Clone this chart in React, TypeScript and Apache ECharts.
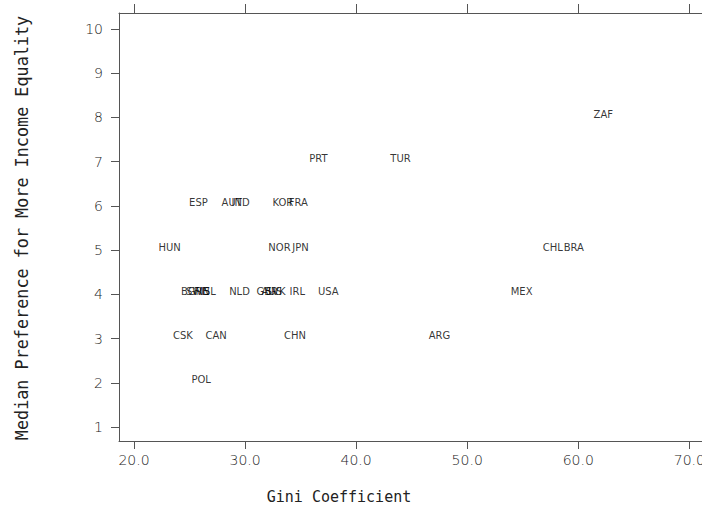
import React, { useEffect, useRef } from "react";
import * as echarts from "echarts";

const countries = ["ZAF","PRT","TUR","ESP","AUT","IND","KOR","FRA","HUN","NOR","JPN","CHL","BRA","BGR","SWE","FIN","ISL","NLD","GBR","AUS","SVK","IRL","USA","MEX","ARG","CSK","CAN","CHN","POL"];
const gini = [62.25,36.6,44.0,25.8,28.8,29.6,33.4,34.8,23.2,33.1,35.0,57.7,59.6,25.2,25.7,26.1,26.7,29.5,32.0,32.4,32.75,34.7,37.5,54.9,47.5,24.4,27.4,34.5,26.05];
const preference = [8,7,7,6,6,6,6,6,5,5,5,5,5,4,4,4,4,4,4,4,4,4,4,4,3,3,3,3,2];
const xTicks = [20, 30, 40, 50, 60, 70];
const yTicks = [1, 2, 3, 4, 5, 6, 7, 8, 9, 10];

export default function App() {
  const ref = useRef<HTMLDivElement>(null);
  useEffect(() => {
    document.body.style.margin = "0";
    document.documentElement.style.overflow = "hidden";
    const chart = echarts.init(ref.current!, null, { renderer: "svg", width: 702, height: 516 });
    const axisColor = "#555";
    const tickFont = { fontFamily: "DejaVu Sans", fontSize: 14, fontWeight: 300 as any, color: "#222" };
    chart.setOption({
      animation: false,
      backgroundColor: "#fff",
      grid: { left: 119, top: 13, width: 583, height: 428, outerBoundsMode: "none", containLabel: false },
      xAxis: [
        {
          type: "value", min: 18.65, max: 71.14, position: "bottom",
          splitLine: { show: false },
          axisLine: { show: true, onZero: false, lineStyle: { color: axisColor, width: 1 } },
          axisTick: { show: true, inside: false, length: 8, customValues: xTicks, lineStyle: { color: axisColor } },
          axisLabel: { customValues: xTicks, margin: 12, formatter: (v: number) => v.toFixed(1), ...tickFont },
        },
        {
          type: "value", min: 18.65, max: 71.14, position: "top",
          splitLine: { show: false },
          axisLine: { show: true, onZero: false, lineStyle: { color: axisColor, width: 1 } },
          axisTick: { show: true, inside: false, length: 9, customValues: xTicks, lineStyle: { color: axisColor } },
          axisLabel: { show: false },
        },
      ],
      yAxis: {
        type: "value", min: 0.683, max: 10.36,
        splitLine: { show: false },
        axisLine: { show: true, onZero: false, lineStyle: { color: axisColor, width: 1 } },
        axisTick: { show: true, inside: false, length: 8, customValues: yTicks, lineStyle: { color: axisColor } },
        axisLabel: { customValues: yTicks, margin: 16, ...tickFont },
      },
      graphic: [
        {
          type: "text", x: 339, y: 497,
          style: { text: "Gini Coefficient", fontFamily: "DejaVu Sans Mono", fontSize: 15, fill: "#222", textAlign: "center", textVerticalAlign: "middle" },
        },
        {
          type: "text", x: 22, y: 228, rotation: Math.PI / 2,
          style: { text: "Median Preference for More Income Equality", fontFamily: "DejaVu Sans Mono", fontSize: 16.8, fill: "#222", textAlign: "center", textVerticalAlign: "middle" },
        },
      ],
      series: [
        {
          type: "scatter",
          symbolSize: 1,
          itemStyle: { color: "rgba(0,0,0,0)" },
          data: countries.map((c, i) => ({ name: c, value: [gini[i], preference[i]] })),
          label: {
            show: true, position: "inside", offset: [0, -3], formatter: "{b}",
            fontFamily: "DejaVu Sans", fontSize: 10, color: "#000",
          },
        },
      ],
    });
    return () => chart.dispose();
  }, []);
  return <div ref={ref} style={{ width: 702, height: 516 }} />;
}
